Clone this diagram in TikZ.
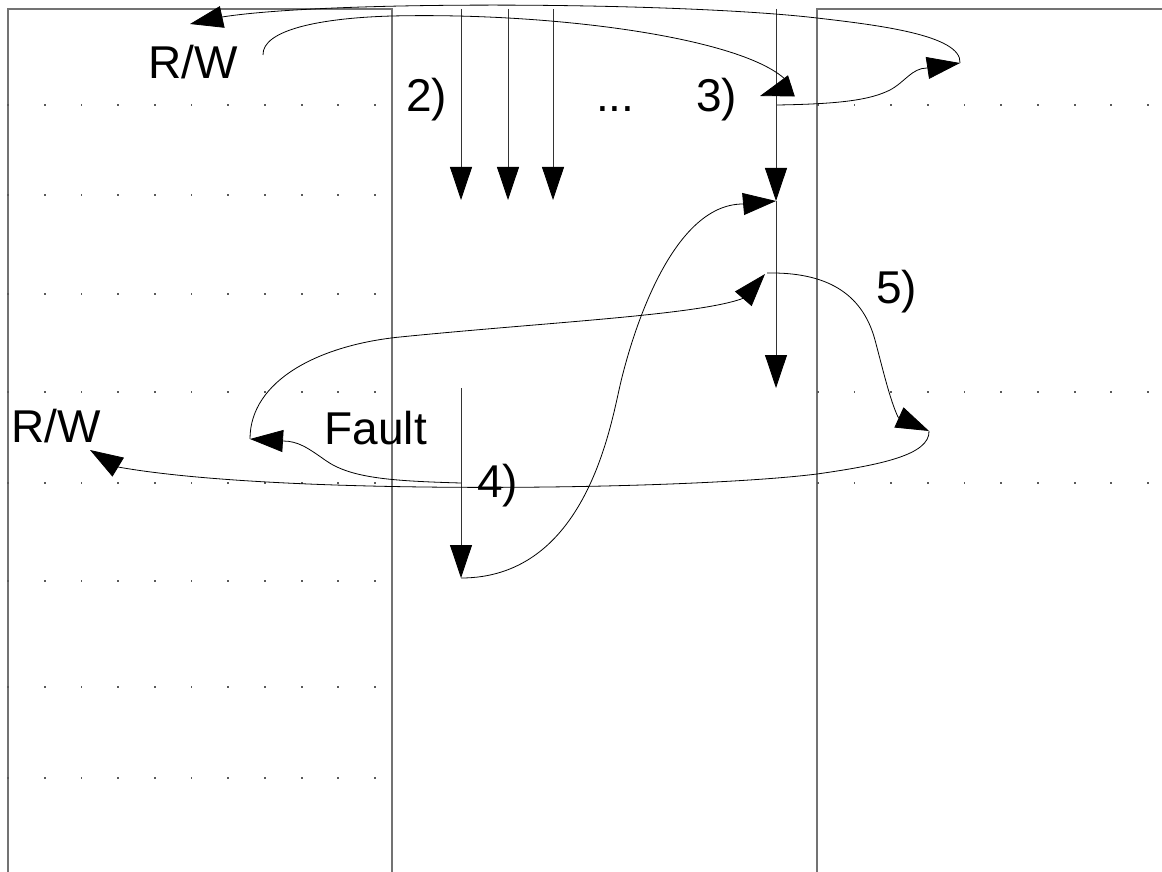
\documentclass[tikz,border=0pt]{standalone}
\usepackage{fontspec}
\setmainfont{Liberation Sans}
\usetikzlibrary{arrows.meta}
\begin{document}
\begin{tikzpicture}[x=1pt,y=-1pt,
  framel/.style={draw=black!55, line width=1.1pt},
  tiphead/.style={-{Triangle[length=33pt,width=22pt,color=black]}},
  vline/.style={draw=black!80, line width=0.8pt, tiphead},
  curve/.style={draw=black, line width=0.8pt},
  carrow/.style={curve, tiphead},
  lbl/.style={inner sep=0pt, anchor=base west, font=\fontsize{46}{50}\selectfont},
  dotc/.style={fill=black!65}]
\useasboundingbox (0,0) rectangle (1162,872);
% frames
\draw[framel] (8,872) -- (8,9) -- (392,9) -- (392,872);
\draw[framel] (817,872) -- (817,9) -- (1162,9);
% dots
\foreach \yy in {105,195,294,392,483,581,687,778}
  \foreach \k in {0,...,10}
    \fill[dotc] ({8+36.7*\k-0.9},{\yy-0.9}) rectangle ++(1.8,1.8);
\foreach \yy in {105,392,483}
  \foreach \k in {0,...,9}
    \fill[dotc] ({817.7+36.7*\k-0.9},{\yy-0.9}) rectangle ++(1.8,1.8);
% coordinates
\coordinate (v1t) at (461,9);   \coordinate (v1b) at (461,200);
\coordinate (v2t) at (508,9);   \coordinate (v2b) at (508,200);
\coordinate (v3t) at (553,9);   \coordinate (v3b) at (553,200);
\coordinate (v4t) at (776,9);   \coordinate (v4m) at (776,201);
\coordinate (v4b) at (776,388);
\coordinate (v5t) at (461,388); \coordinate (v5b) at (461,578);
\coordinate (aS) at (960,63);  \coordinate (aM) at (817,18);
\coordinate (aB) at (222,17);  \coordinate (aT) at (190,24);
\coordinate (bS) at (777,105); \coordinate (bM) at (890,90);
\coordinate (bB) at (927,68);
\coordinate (cS) at (263,55);  \coordinate (cM) at (392,16);
\coordinate (cB) at (791,86);  \coordinate (cT) at (760,96);
\coordinate (dS) at (461,483); \coordinate (dM) at (325,460);
\coordinate (dB) at (283,441); \coordinate (dT) at (250,439);
\coordinate (eM) at (400,337); \coordinate (eB) at (744,298);
\coordinate (eT) at (765,274);
\coordinate (fS) at (767,273); \coordinate (fM) at (875,340);
\coordinate (fB) at (898,417); \coordinate (fT) at (929,431);
\coordinate (gM) at (817,474); \coordinate (gB) at (118,467);
\coordinate (gT) at (90,450);
\coordinate (hM) at (619,390); \coordinate (hB) at (743,204);
% vertical arrows
\draw[vline] (v1t) -- (v1b);
\draw[vline] (v2t) -- (v2b);
\draw[vline] (v3t) -- (v3b);
\draw[vline] (v4t) -- (v4m);
\draw[vline] (v4m) -- (v4b);
\draw[vline] (v5t) -- (v5b);
% curves
\draw[carrow] (aS) .. controls (962,35) and (877,25) .. (aM)
  .. controls (680,2) and (330,0) .. (aB) -- (aT);
\draw[carrow] (bS) .. controls (840,104) and (870,100) .. (bM)
  .. controls (905,82) and (912,68) .. (bB) -- (aS);
\draw[carrow] (cS) .. controls (262,30) and (320,18) .. (cM)
  .. controls (560,12) and (760,40) .. (cB) -- (cT);
\draw[carrow] (dS) .. controls (390,481) and (350,478) .. (dM)
  .. controls (308,448) and (298,441) .. (dB) -- (dT);
\draw[carrow] (dT) .. controls (250,380) and (320,345) .. (eM)
  .. controls (550,322) and (700,315) .. (eB) -- (eT);
\draw[carrow] (fS) .. controls (825,272) and (862,292) .. (fM)
  .. controls (883,370) and (890,400) .. (fB) -- (fT);
\draw[carrow] (fT) .. controls (930,455) and (880,465) .. (gM)
  .. controls (690,490) and (280,496) .. (gB) -- (gT);
\draw[carrow] (v5b) .. controls (580,578) and (608,440) .. (hM)
  .. controls (630,340) and (670,204) .. (hB) -- (v4m);
% labels
\node[lbl] (rw1) at (148,79) {R/W};
\node[lbl] (n2) at (406,112) {2)};
\node[lbl] (dots) at (596,112) {...};
\node[lbl] (n3) at (696,112) {3)};
\node[lbl] (n5) at (876,303) {5)};
\node[lbl] (rw2) at (11.5,442) {R/W};
\node[lbl] (fault) at (324.5,444) {Fault};
\node[lbl] (n4) at (477,497) {4)};
\end{tikzpicture}
\end{document}
